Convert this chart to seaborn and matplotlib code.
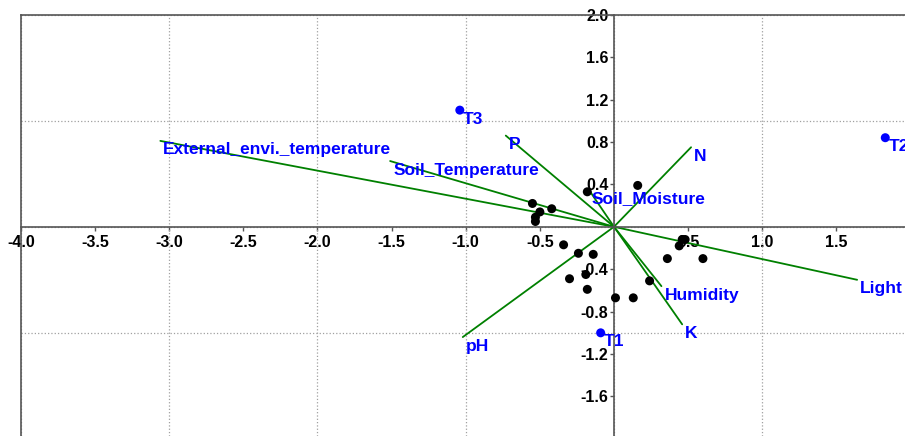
import matplotlib
matplotlib.use("Agg")
import matplotlib.pyplot as plt
import matplotlib.ticker as mticker
import pandas as pd
import seaborn as sns

# sample scores (black dots)
sample_x = [-0.55, -0.50, -0.42, -0.53, -0.53, -0.18, 0.16, -0.34, -0.24, -0.14,
            -0.30, -0.19, -0.18, 0.01, 0.13, 0.24, 0.46, 0.48, 0.44, 0.36, 0.60]
sample_y = [0.22, 0.14, 0.17, 0.09, 0.05, 0.33, 0.39, -0.17, -0.25, -0.26,
            -0.49, -0.45, -0.59, -0.67, -0.67, -0.51, -0.12, -0.12, -0.18, -0.30, -0.30]

# treatment scores (blue dots)
treat_names = ["T1", "T2", "T3"]
treat_x = [-0.09, 1.83, -1.04]
treat_y = [-1.00, 0.84, 1.10]

# environmental variables (arrows from the origin)
env_names = ["External_envi._temperature", "Soil_Temperature", "P", "N",
             "Soil_Moisture", "Light", "Humidity", "K", "pH"]
env_x = [-3.06, -1.51, -0.73, 0.52, -0.17, 1.64, 0.32, 0.46, -1.02]
env_y = [0.81, 0.62, 0.86, 0.75, 0.35, -0.50, -0.56, -0.92, -1.04]

x_ticks = [-4.0, -3.5, -3.0, -2.5, -2.0, -1.5, -1.0, -0.5, 0.5, 1.0, 1.5]
y_ticks = [-1.6, -1.2, -0.8, -0.4, 0.4, 0.8, 1.2, 1.6, 2.0]

sns.set_theme(style="white")
plt.rcParams["font.family"] = ["Liberation Sans", "DejaVu Sans"]

fig = plt.figure(figsize=(9.05, 4.36), dpi=100)
ax = fig.add_axes([21 / 905, 0, 1 - 21 / 905, 1 - 14.7 / 436])

# arrows as a long table: origin + end point per variable
rows = []
for n, x, y in zip(env_names, env_x, env_y):
    rows.append({"var": n, "x": 0.0, "y": 0.0, "step": 0})
    rows.append({"var": n, "x": x, "y": y, "step": 1})
df_env = pd.DataFrame(rows)
sns.lineplot(data=df_env, x="x", y="y", units="var", estimator=None, sort=False,
             color="#008000", lw=1.3, ax=ax, zorder=2, legend=False)

sns.scatterplot(x=sample_x, y=sample_y, color="black", s=42, edgecolor="none",
                ax=ax, zorder=3)
sns.scatterplot(x=treat_x, y=treat_y, color="#0000FF", s=42, edgecolor="none",
                ax=ax, zorder=3)

lab_kw = dict(textcoords="offset pixels", xytext=(3, -9), ha="left", va="center",
              color="#0000FF", fontsize=12.5, fontweight="bold", zorder=5,
              annotation_clip=False)
for n, x, y in zip(env_names, env_x, env_y):
    ax.annotate(n, (x, y), **lab_kw)
for n, x, y in zip(treat_names, treat_x, treat_y):
    ax.annotate(n, (x, y), **lab_kw)

ax.set_xlim(-4.0, 1.963)
ax.set_ylim(-1.973, 2.0)
ax.set_xlabel("")
ax.set_ylabel("")

# axes through the origin, frame on left and top
ax.spines["left"].set_position(("data", 0))
ax.spines["bottom"].set_position(("data", 0))
ax.spines["right"].set_position(("axes", 0))
for s in ["left", "bottom", "right", "top"]:
    ax.spines[s].set_color("#555555")
    ax.spines[s].set_linewidth(1.2)
    ax.spines[s].set_visible(True)

ax.xaxis.set_major_locator(mticker.FixedLocator(x_ticks))
ax.yaxis.set_major_locator(mticker.FixedLocator(y_ticks))
ax.xaxis.set_major_formatter(mticker.FormatStrFormatter("%.1f"))
ax.yaxis.set_major_formatter(mticker.FormatStrFormatter("%.1f"))
ax.xaxis.set_minor_locator(mticker.MultipleLocator(1.0))
ax.yaxis.set_minor_locator(mticker.MultipleLocator(1.0))
ax.xaxis.remove_overlapping_locs = False
ax.yaxis.remove_overlapping_locs = False
ax.tick_params(which="major", axis="both", length=3, width=1, color="#555555",
               labelsize=11.5, labelcolor="black", direction="out")
ax.tick_params(axis="x", pad=3, bottom=True, top=False)
ax.tick_params(axis="y", pad=1, left=True, right=False)
ax.tick_params(which="minor", length=0)
for lab in ax.get_xticklabels() + ax.get_yticklabels():
    lab.set_fontweight("bold")

ax.grid(False, which="major")
ax.grid(True, which="minor", linestyle=":", color="#a0a0a0", linewidth=0.9)
ax.set_axisbelow(True)

plt.savefig("out.png", dpi=100)
